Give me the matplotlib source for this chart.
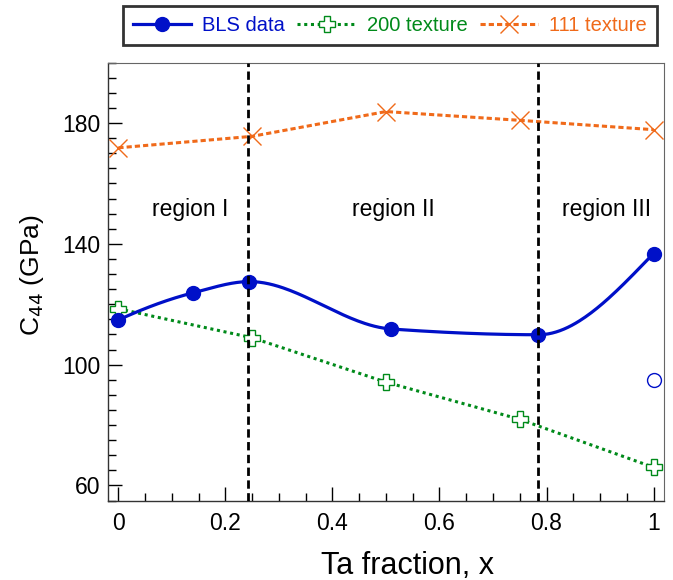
import matplotlib.pyplot as plt
import numpy as np
from matplotlib.ticker import MultipleLocator

plt.rcParams['font.family'] = ['Liberation Sans', 'DejaVu Sans']

# datos
x_bls = [0.0, 0.14, 0.245, 0.51, 0.785, 1.0]
c44_bls = [114.8, 123.8, 127.5, 111.8, 109.9, 136.8]
x_open = [1.0]
c44_open = [95.0]

x_200 = [0.0, 0.25, 0.5, 0.75, 1.0]
c44_200 = [118.5, 108.9, 94.2, 81.9, 66.0]

x_111 = [0.0, 0.25, 0.5, 0.75, 1.0]
c44_111 = [171.8, 175.6, 183.8, 180.9, 177.8]

limites = [0.242, 0.785]
regiones = ['region I', 'region II', 'region III']
x_regiones = [0.134, 0.513, 0.912]


def pchip(x, y, n=60):
    # curva suave monotona (tipo PCHIP) entre los puntos medidos
    x = np.asarray(x, float)
    y = np.asarray(y, float)
    h = np.diff(x)
    d = np.diff(y) / h
    m = np.zeros_like(y)
    for k in range(1, len(x) - 1):
        if d[k - 1] * d[k] > 0:
            w1 = 2 * h[k] + h[k - 1]
            w2 = h[k] + 2 * h[k - 1]
            m[k] = (w1 + w2) / (w1 / d[k - 1] + w2 / d[k])
    for i, (h0, h1, d0, d1) in [(0, (h[0], h[1], d[0], d[1])),
                                (-1, (h[-1], h[-2], d[-1], d[-2]))]:
        v = ((2 * h0 + h1) * d0 - h0 * d1) / (h0 + h1)
        if np.sign(v) != np.sign(d0):
            v = 0
        elif np.sign(d0) != np.sign(d1) and abs(v) > 3 * abs(d0):
            v = 3 * d0
        m[i] = v
    xs, ys = [], []
    for i in range(len(x) - 1):
        t = np.linspace(0, 1, n)
        h00 = 2 * t**3 - 3 * t**2 + 1
        h10 = t**3 - 2 * t**2 + t
        h01 = -2 * t**3 + 3 * t**2
        h11 = t**3 - t**2
        xs.append(x[i] + t * h[i])
        ys.append(h00 * y[i] + h10 * h[i] * m[i] + h01 * y[i + 1] + h11 * h[i] * m[i + 1])
    return np.concatenate(xs), np.concatenate(ys)


azul = '#0010C8'
verde = '#008A1A'
naranja = '#F06A1A'
ls_verde = (0, (1, 1.2))
ls_naranja = (0, (1.7, 1))

fig = plt.figure(figsize=(6.73, 5.8), dpi=100)
ax = fig.add_axes([0.160, 0.137, 0.827, 0.755])

xs, ys = pchip(x_bls, c44_bls)
ax.plot(xs, ys, color=azul, lw=2.3, zorder=4)
ax.plot(x_bls, c44_bls, 'o', color=azul, ms=10, zorder=5)
ax.plot(x_open, c44_open, 'o', mfc='none', mec=azul, ms=10, mew=1, zorder=5)

ax.plot(x_200, c44_200, color=verde, lw=2.2, ls=ls_verde, marker='P',
        ms=12, mfc='white', mec=verde, mew=1, zorder=3)
ax.plot(x_111, c44_111, color=naranja, lw=2.2, ls=ls_naranja, marker='x',
        ms=13, mec=naranja, mew=1, zorder=3)

for xl in limites:
    ax.axvline(xl, color='black', lw=2, ls=(0, (3, 1.6)), zorder=6)

for xr, txt in zip(x_regiones, regiones):
    ax.text(xr, 151.5, txt, ha='center', va='center', fontsize=16.5)

ax.set_xlim(-0.02, 1.02)
ax.set_ylim(55, 200)
ax.xaxis.set_minor_locator(MultipleLocator(0.05))
ax.yaxis.set_minor_locator(MultipleLocator(5))
ax.set_yticks([60, 100, 140, 180])
ax.set_xticks([0, 0.2, 0.4, 0.6, 0.8, 1])
ax.set_xticklabels(['0', '0.2', '0.4', '0.6', '0.8', '1'])
ax.tick_params(which='both', direction='in', labelsize=16.5, top=False, right=False)
ax.tick_params(which='major', length=10, width=1)
ax.tick_params(which='minor', length=6, width=1)
ax.tick_params(axis='x', pad=8)
ax.tick_params(axis='y', pad=5)
for lado in ['top', 'right']:
    ax.spines[lado].set_color('#666666')
    ax.spines[lado].set_linewidth(0.8)
for lado in ['left', 'bottom']:
    ax.spines[lado].set_color('#333333')
    ax.spines[lado].set_linewidth(1)

ax.set_xlabel('Ta fraction, x', fontsize=22, labelpad=12)
ax.xaxis.label.set_x(0.538)
ax.set_ylabel('C$_{44}$ (GPa)', fontsize=19, labelpad=12)
ax.yaxis.label.set_y(0.515)

# entradas de la leyenda
h1, = ax.plot([], [], color=azul, lw=2.3, marker='o', ms=10)
h2, = ax.plot([], [], color=verde, lw=2.2, ls=ls_verde, marker='P',
              ms=12, mfc='white', mec=verde, mew=1)
h3, = ax.plot([], [], color=naranja, lw=2.2, ls=ls_naranja, marker='x',
              ms=13, mec=naranja, mew=1)
leg = fig.legend([h1, h2, h3], ['BLS data', '200 texture', '111 texture'],
                 loc='center', bbox_to_anchor=(0.5795, 0.956), ncol=3,
                 fontsize=14.5, frameon=True, fancybox=False, edgecolor='black',
                 handlelength=2.9, columnspacing=0.6, handletextpad=0.55,
                 borderpad=0.5, borderaxespad=0)
leg.get_frame().set_linewidth(2)
for t, c in zip(leg.get_texts(), [azul, verde, naranja]):
    t.set_color(c)

plt.savefig('out.png', dpi=100)
